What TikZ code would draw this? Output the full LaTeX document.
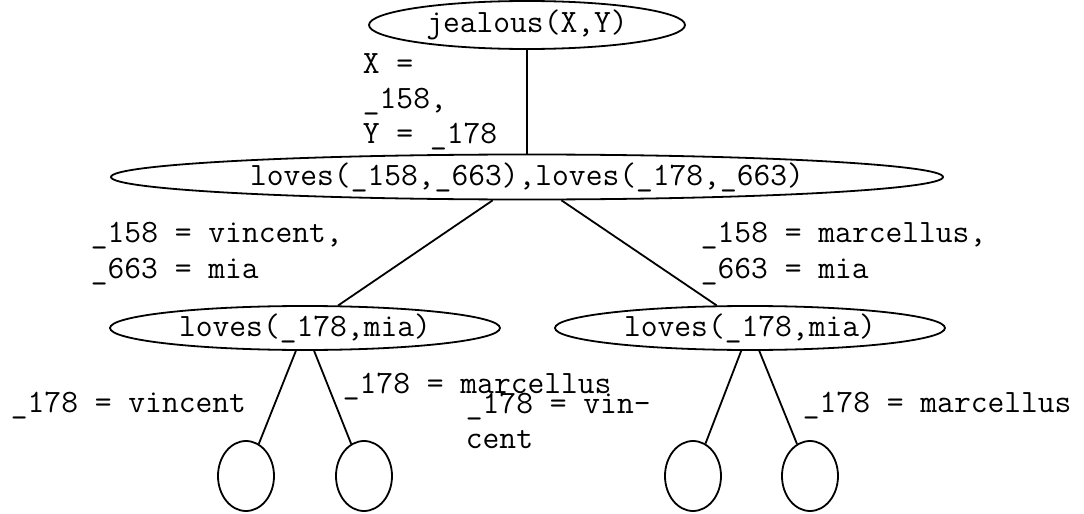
\documentclass[tikz,border=0pt]{standalone}
\usepackage{fontspec}
\usepackage{tikz}
\usetikzlibrary{shapes.geometric}

\begin{document}
\begin{tikzpicture}[x=0.5pt, y=-0.5pt, line width=0.9pt,
		goal/.style={ellipse, draw, inner sep=0pt, font=\ttfamily\fontsize{16.3}{17.5}\selectfont},
		leaf/.style={ellipse, draw, inner sep=0pt, minimum width=28pt, minimum height=35pt},
		lab/.style={anchor=base west, inner sep=0pt, align=left, font=\ttfamily\fontsize{16.3}{17.5}\selectfont}]
		\useasboundingbox (0, 0) rectangle (1084, 514);
		% The query and the conjunction it unfolds into
		\node [goal, minimum width=158pt, minimum height=24pt] (query) at (527, 25) {jealous(X,Y)};
		\node [goal, minimum width=416pt, minimum height=22.5pt] (conj) at (527, 177) {loves(\_158,\_663),loves(\_178,\_663)};
		% The two branches for _158
		\node [goal, minimum width=195pt, minimum height=22pt] (vin) at (305, 328) {loves(\_178,mia)};
		\node [goal, minimum width=195pt, minimum height=22pt] (mar) at (750, 328) {loves(\_178,mia)};
		% The empty leaves
		\node [leaf] (leafa) at (246, 476) {};
		\node [leaf] (leafb) at (364, 476) {};
		\node [leaf] (leafc) at (693, 476) {};
		\node [leaf] (leafd) at (810, 476) {};
		% Edges of the search tree
		\draw (query) -- (conj);
		\draw (conj) -- (vin);
		\draw (conj) -- (mar);
		\draw (vin) -- (leafa);
		\draw (vin) -- (leafb);
		\draw (mar) -- (leafc);
		\draw (mar) -- (leafd);
		% The substitutions on the edges (base = last line)
		\node [lab] (subq) at (362, 143) {X =\\\_158,\\Y = \_178};
		\node [lab] (subv) at (90, 278) {\_158 = vincent,\\\_663 = mia};
		\node [lab] (subm) at (700, 278) {\_158 = marcellus,\\\_663 = mia};
		\node [lab] (suba) at (10, 412) {\_178 = vincent};
		\node [lab] (subb) at (342, 393) {\_178 = marcellus};
		\node [lab] (subc) at (465, 448) {\_178 = vin-\\cent};
		\node [lab] (subd) at (802, 412) {\_178 = marcellus};
	\end{tikzpicture}
\end{document}
